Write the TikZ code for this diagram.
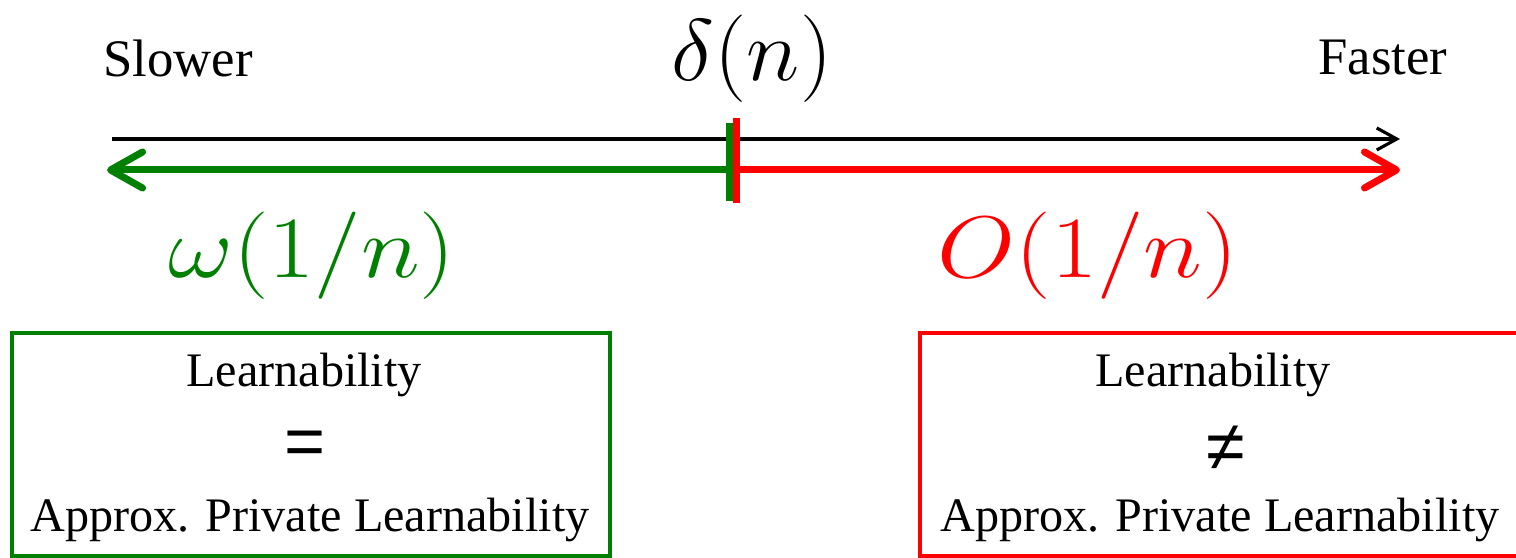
\documentclass[tikz,border=0pt]{standalone}
\usepackage{fontspec}
\setmainfont{Liberation Serif}
\newfontfamily\relfont{Liberation Sans}
\usetikzlibrary{arrows.meta}
\definecolor{okgreen}{RGB}{0,128,0}
\begin{document}
\begin{tikzpicture}[
    txt/.style={font=\fontsize{15}{18}\selectfont},
    boxtxt/.style={font=\fontsize{13.7}{16}\selectfont,anchor=base},
    bigmath/.style={font=\fontsize{27}{30}\selectfont},
    rel/.style={font=\fontsize{20}{24}\selectfont\relfont},
    resbox/.style={draw,line width=1.3pt,minimum width=#1,minimum height=2.23cm}]
      \useasboundingbox (0,0) rectangle (15.16,5.58);

      \coordinate (L) at (1.12,4.19);
      \coordinate (R) at (14.00,4.19);
      \draw[-{Straight Barb[length=2mm,width=2.2mm]},line width=0.9pt] (L)--(R);

      \node[txt] (slow) at (1.78,5.0) {Slower};
      \node[txt] (fast) at (13.83,5.0) {Faster};
      \node[bigmath,xscale=1.04,transform shape] (delta) at (7.52,4.99) {$\delta(n)$};

      % split point
      \coordinate (gs) at (7.35,3.88);
      \coordinate (ge) at (1.07,3.88);
      \coordinate (rs) at (7.40,3.88);
      \coordinate (re) at (14.00,3.88);
      \draw[okgreen,line width=2pt,-{Straight Barb[length=3.2mm,width=3.6mm,round]}]
        (gs)--(ge);
      \draw[red,line width=2pt,-{Straight Barb[length=3.2mm,width=3.6mm,round]}]
        (rs)--(re);
      \draw[okgreen,line width=2pt] (7.30,4.35)--(7.30,3.57);
      \draw[red,line width=2pt] (7.365,4.40)--(7.365,3.55);

      \node[bigmath,text=okgreen,xscale=1.15,transform shape] (omega) at (3.12,3.02) {$\omega(1/n)$};
      \node[bigmath,text=red,xscale=1.15,transform shape] (bigO) at (10.88,3.02) {$O(1/n)$};

      % boxes
      \node[resbox=5.98cm,draw=okgreen] (lbox) at (3.11,1.135) {};
      \node[resbox=6.10cm,draw=red] (rbox) at (12.25,1.135) {};

      \node[boxtxt] (l1) at (3.04,1.71) {Learnability};
      \node[rel] (l2) at (3.05,1.10) {=};
      \node[boxtxt] (l3) at (3.10,0.26) {Approx. Private Learnability};

      \node[boxtxt] (r1) at (12.13,1.71) {Learnability};
      \node[rel] (r2) at (12.26,1.10) {≠};
      \node[boxtxt] (r3) at (12.20,0.26) {Approx. Private Learnability};

    \end{tikzpicture}
\end{document}
